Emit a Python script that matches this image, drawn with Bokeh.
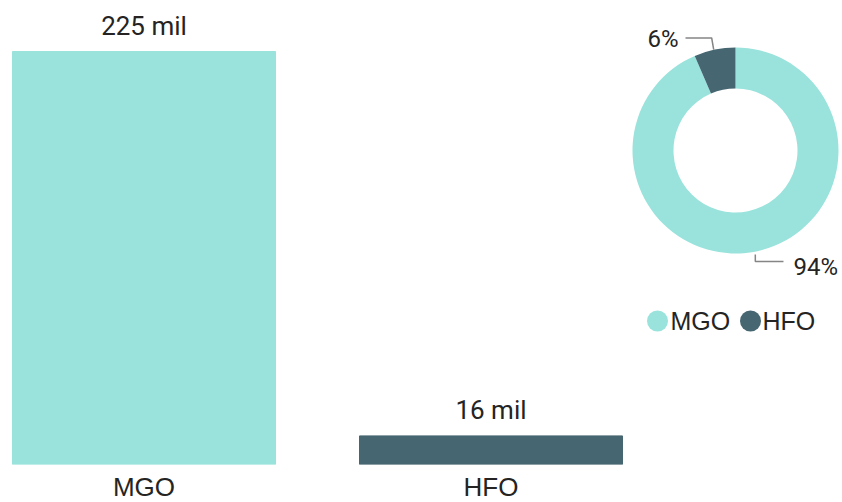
import math
from bokeh.plotting import figure
from bokeh.models import Range1d, FixedTicker, ColumnDataSource
from bokeh.core.properties import value
from bokeh.embed import file_html
from bokeh.resources import INLINE

# ---- data ----
categories = ["MGO", "HFO"]
volumes_mil = [225.3, 15.6]
colors = ["#99E3DC", "#466671"]

TEXT = "#252423"
LEAD = "#858585"
NUM_FONT = "Roboto"
LBL_FONT = "Liberation Sans"

# ---- frame geometry (pixels) ----
FW, FH = 842, 464          # plot frame
XS = 347.0                 # px per category step
X0 = 143.5                 # px position of first category centre
YS = 1.8331                # px per million
x_start = -X0 / XS
x_end = (FW - X0) / XS
y_end = FH / YS


def sx(px):  # screen x -> data x
    return x_start + px / XS


def sy(py):  # screen y (from top) -> data y
    return y_end - py / YS


p = figure(frame_width=FW, frame_height=FH, output_backend="svg", toolbar_location=None,
           x_range=Range1d(x_start, x_end), y_range=Range1d(0, y_end),
           min_border_left=0, min_border_right=0, min_border_top=0, min_border_bottom=36)
p.yaxis.visible = False
p.grid.visible = False
p.outline_line_color = None

# ---- bars ----
xs = list(range(len(categories)))
bar_labels = [f"{v:.0f} mil" for v in volumes_mil]
src = ColumnDataSource(dict(x=xs, top=volumes_mil, color=colors, label=bar_labels))
p.vbar(x="x", top="top", bottom=0, width=263 / XS, color="color", source=src)
p.text(x="x", y="top", text="label", source=src, text_align="center", text_baseline="middle",
       y_offset=-26, text_font=value(NUM_FONT), text_font_size="26px", text_color=TEXT)

p.xaxis.ticker = FixedTicker(ticks=xs)
p.xaxis.major_label_overrides = {i: c for i, c in zip(xs, categories)}
p.xaxis.axis_line_color = None
p.xaxis.major_tick_line_color = None
p.xaxis.minor_tick_line_color = None
p.xaxis.major_tick_out = 0
p.xaxis.major_tick_in = 0
p.xaxis.major_label_standoff = 7
p.xaxis.major_label_text_font = LBL_FONT
p.xaxis.major_label_text_font_size = "26px"
p.xaxis.major_label_text_color = TEXT

# ---- donut ----
CX, CY = 735.0, 150.0      # centre, screen px
R_OUT, R_IN = 103, 62
cx, cy = sx(CX), sy(CY)

total = sum(volumes_mil)
fracs = [v / total for v in volumes_mil]
hfo_start = math.pi / 2
hfo_end = hfo_start + fracs[1] * 2 * math.pi
mgo_start = hfo_end
mgo_end = math.pi / 2 + 2 * math.pi
wsrc = ColumnDataSource(dict(start=[mgo_start, hfo_start], end=[mgo_end, hfo_end], color=colors))
p.annular_wedge(x=cx, y=cy, inner_radius=R_IN, outer_radius=R_OUT,
                inner_radius_units="screen", outer_radius_units="screen",
                start_angle="start", end_angle="end", color="color", source=wsrc, line_color=None)

pct = [f"{round(f * 100)}%" for f in fracs]


def off(dxp, dyp_up):  # offset from donut centre in px (y up) -> data
    return cx + dxp / XS, cy + dyp_up / YS


# HFO leader (upper left)
a = (hfo_start + hfo_end) / 2
ex, ey = R_OUT * math.cos(a), R_OUT * math.sin(a)
pts = [off(ex - 1, ey), off(ex - 3, 112.5), off(-50, 112.5)]
p.line(x=[q[0] for q in pts], y=[q[1] for q in pts], line_color=LEAD, line_width=1.5)
tx, ty = off(-57, 111.5)
p.text(x=[tx], y=[ty], text=[pct[1]], text_align="right", text_baseline="middle",
       text_font=value(NUM_FONT), text_font_size="24px", text_color=TEXT)

# MGO leader (lower right)
a = (mgo_start + mgo_end) / 2
ex, ey = R_OUT * math.cos(a), R_OUT * math.sin(a)
pts = [off(ex - 1, ey - 3), off(ex - 1, -111), off(48, -111)]
p.line(x=[q[0] for q in pts], y=[q[1] for q in pts], line_color=LEAD, line_width=1.5)
tx, ty = off(58, -116)
p.text(x=[tx], y=[ty], text=[pct[0]], text_align="left", text_baseline="middle",
       text_font=value(NUM_FONT), text_font_size="24px", text_color=TEXT)

# ---- legend ----
leg_cx = [657, 750]
leg_tx = [670, 762]
leg_y = 320.5
p.scatter(x=[sx(v) for v in leg_cx], y=[sy(leg_y)] * 2, size=21, marker="circle",
          color=colors, line_color=None)
p.text(x=[sx(v) for v in leg_tx], y=[sy(leg_y)] * 2, text=categories, text_align="left",
       text_baseline="middle", text_font=value(LBL_FONT), text_font_size="25px", text_color=TEXT)

open("out.html", "w").write(file_html(p, INLINE))
